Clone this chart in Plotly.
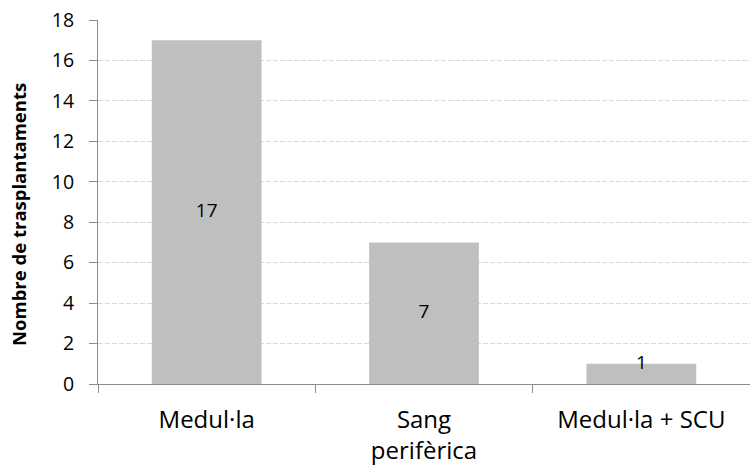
import plotly.graph_objects as go

categories = ["Medul·la", "Sang<br>perifèrica", "Medul·la + SCU"]
values = [17, 7, 1]
label_positions = ["middle center", "middle center", "top center"]
y_ticks = [0, 2, 4, 6, 8, 10, 12, 14, 16, 18]
y_title = "Nombre de trasplantaments"

FONT = "'Open Sans', Calibri, Carlito, sans-serif"

fig = go.Figure()
fig.add_trace(go.Bar(
    x=categories,
    y=values,
    marker=dict(color="#BFBFBF", line=dict(width=0)),
    width=0.505,
    hoverinfo="skip",
))
fig.add_trace(go.Scatter(
    x=categories,
    y=[v / 2 for v in values],
    mode="text",
    text=[str(v) for v in values],
    textposition=label_positions,
    textfont=dict(family=FONT, size=19, color="#000000"),
    hoverinfo="skip",
    cliponaxis=False,
))

fig.update_layout(
    width=750,
    height=468,
    margin=dict(l=98, r=0, t=20, b=84),
    paper_bgcolor="white",
    plot_bgcolor="white",
    showlegend=False,
    font=dict(family=FONT, size=19, color="#000000"),
    annotations=[dict(
        text="<b>" + y_title + "</b>",
        textangle=-90,
        xref="paper", yref="paper",
        x=0, y=0.5,
        xanchor="center", yanchor="middle",
        xshift=-80, yshift=-13,
        showarrow=False,
        font=dict(family=FONT, size=18.5, color="#000000"),
    )],
)

fig.update_xaxes(
    type="category",
    showline=True,
    linecolor="#8C8C8C",
    linewidth=1,
    ticks="outside",
    tickson="boundaries",
    ticklen=8,
    tickcolor="#8C8C8C",
    tickwidth=1,
    showgrid=False,
    tickfont=dict(family=FONT, size=24, color="#000000"),
    ticklabelstandoff=14,
    range=[-0.5, 2.5],
    fixedrange=True,
)

fig.update_yaxes(
    range=[0, 18],
    tickvals=y_ticks,
    ticktext=[str(t) for t in y_ticks],
    showline=True,
    linecolor="#8C8C8C",
    linewidth=1,
    ticks="outside",
    ticklen=8,
    tickcolor="#8C8C8C",
    tickwidth=1,
    showgrid=True,
    gridcolor="#D9D9D9",
    gridwidth=1,
    griddash="5px,2px",
    zeroline=False,
    tickfont=dict(family=FONT, size=19.5, color="#000000"),
    ticklabelstandoff=11,
    fixedrange=True,
)

fig.write_html("out.html", config={"displayModeBar": False, "staticPlot": True},
               post_script="document.body.style.margin='0';")
